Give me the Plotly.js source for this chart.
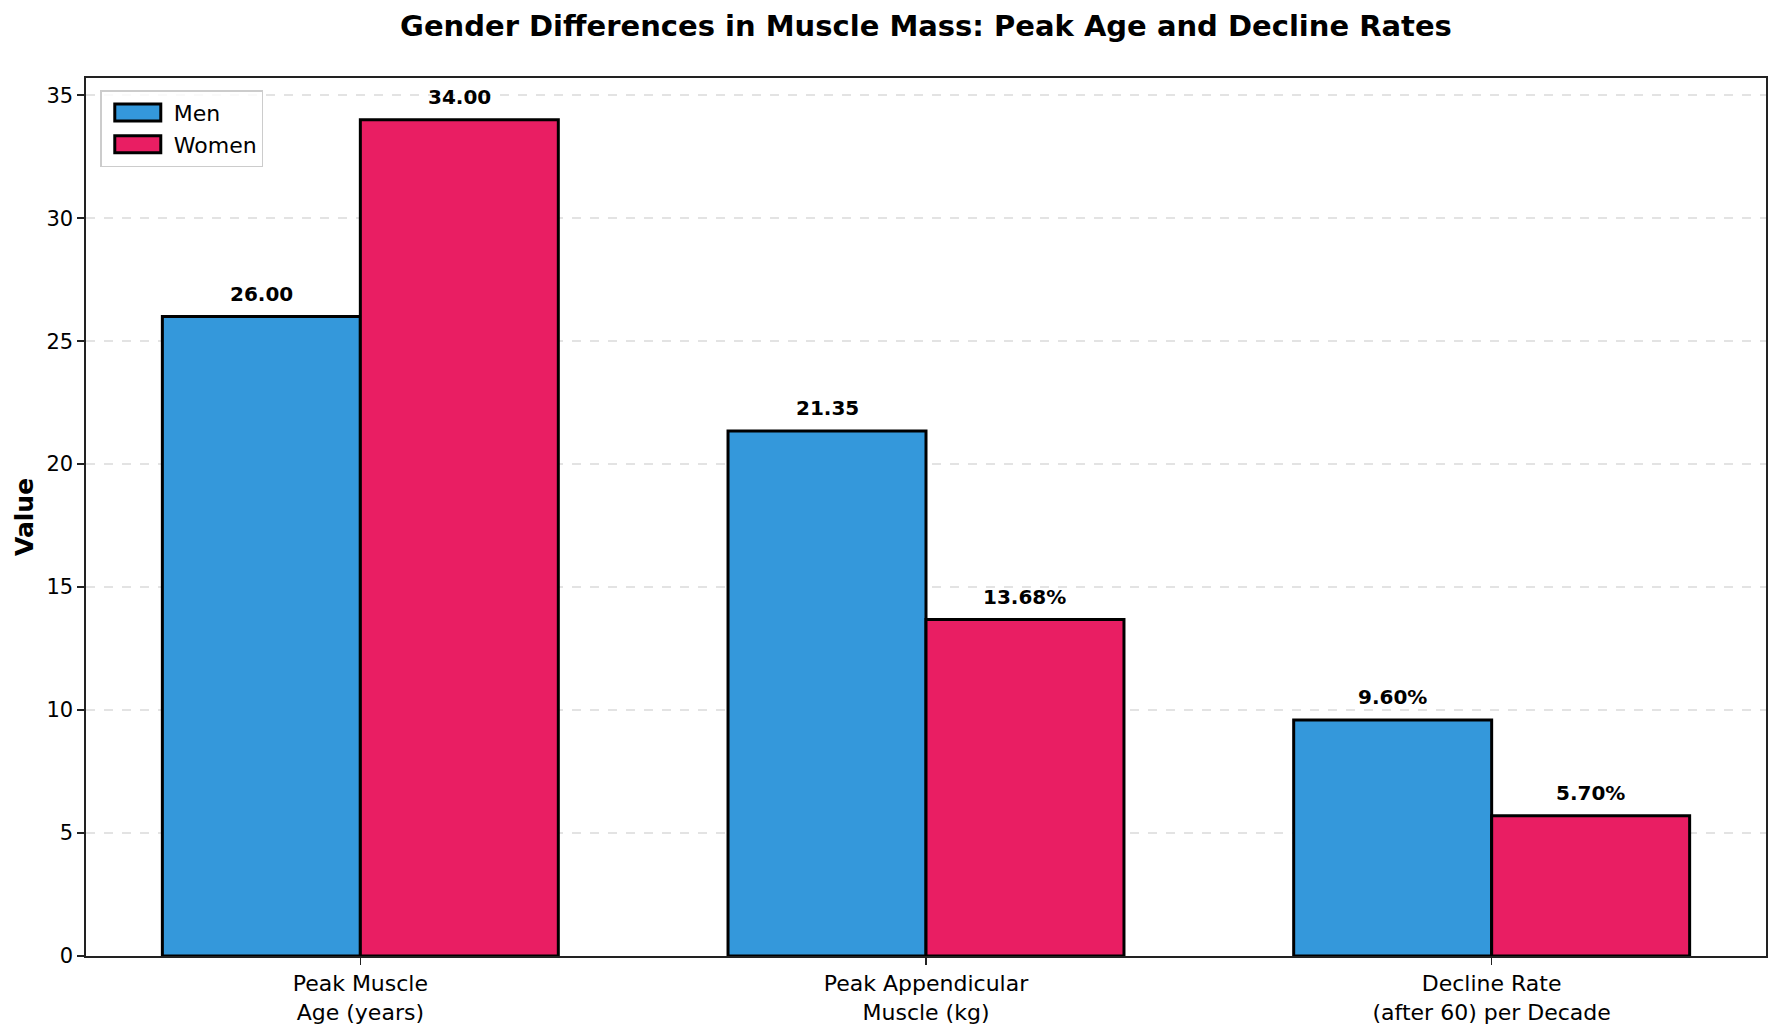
<!DOCTYPE html>
<html>
<head>
<meta charset="utf-8">
<script src="https://cdn.plot.ly/plotly-3.0.1.min.js"></script>
<style>
  html, body { margin: 0; padding: 0; background: #ffffff; }
  #chart { width: 1782px; height: 1035px; }
</style>
</head>
<body>
<div id="chart"></div>
<script>
// ---- Data ----
const categories = ["Peak Muscle<br>Age (years)", "Peak Appendicular<br>Muscle (kg)", "Decline Rate<br>(after 60) per Decade"];
const menValues = [26.00, 21.35, 9.60];
const womenValues = [34.00, 13.68, 5.70];
const menSuffix = ["", "", "%"];
const womenSuffix = ["", "%", "%"];
const yTickVals = [0, 5, 10, 15, 20, 25, 30, 35];

// ---- Chart ----
const font = "DejaVu Sans, Liberation Sans, sans-serif";
const catPos = categories.map((c, i) => i);
const barW = 0.35;

const traces = [
  {
    type: "bar", name: "Men",
    x: catPos.map(p => p - barW / 2), y: menValues, width: barW,
    marker: { color: "#3498db", line: { color: "#000000", width: 3 } },
    hoverinfo: "none"
  },
  {
    type: "bar", name: "Women",
    x: catPos.map(p => p + barW / 2), y: womenValues, width: barW,
    marker: { color: "#e91e63", line: { color: "#000000", width: 3 } },
    hoverinfo: "none"
  }
];

const annotations = [];
menValues.forEach((v, i) => annotations.push({
  xref: "x", yref: "y", x: catPos[i] - barW / 2, y: v,
  text: "<b>" + v.toFixed(2) + menSuffix[i] + "</b>",
  showarrow: false, yanchor: "bottom", yshift: 9,
  font: { family: font, size: 20, color: "#000000" }
}));
womenValues.forEach((v, i) => annotations.push({
  xref: "x", yref: "y", x: catPos[i] + barW / 2, y: v,
  text: "<b>" + v.toFixed(2) + womenSuffix[i] + "</b>",
  showarrow: false, yanchor: "bottom", yshift: 9,
  font: { family: font, size: 20, color: "#000000" }
}));

const layout = {
  width: 1782, height: 1035,
  paper_bgcolor: "#ffffff", plot_bgcolor: "#ffffff",
  margin: { l: 86, r: 16, t: 78, b: 79 },
  font: { family: font, color: "#000000" },
  title: {
    text: "<b>Gender Differences in Muscle Mass: Peak Age and Decline Rates</b>",
    font: { family: font, size: 29, color: "#000000" },
    xref: "paper", x: 0.5, xanchor: "center",
    yref: "container", y: 1 - 26 / 1035, yanchor: "middle"
  },
  barmode: "overlay",
  showlegend: true,
  legend: {
    x: 0.0085, y: 0.986, xanchor: "left", yanchor: "top",
    bgcolor: "rgba(255,255,255,0.8)", bordercolor: "#cccccc", borderwidth: 1.5,
    font: { family: font, size: 22, color: "#000000" },
    itemwidth: 62,
    tracegroupgap: 4
  },
  xaxis: {
    range: [-0.485, 2.485],
    tickmode: "array", tickvals: catPos, ticktext: categories,
    tickfont: { family: font, size: 22, color: "#000000" },
    ticks: "outside", ticklen: 7, tickwidth: 1.6, tickcolor: "#222222",
    showline: true, linecolor: "#222222", linewidth: 1.6, mirror: true,
    showgrid: false, zeroline: false
  },
  yaxis: {
    range: [0, 35.7],
    tickmode: "array", tickvals: yTickVals,
    tickfont: { family: font, size: 21, color: "#000000" },
    ticks: "outside", ticklen: 7, tickwidth: 1.6, tickcolor: "#222222",
    showline: true, linecolor: "#222222", linewidth: 1.6, mirror: true,
    showgrid: true, gridcolor: "#e3e3e3", gridwidth: 1.5, griddash: "dash",
    zeroline: false,
    title: { text: "<b>Value</b>", font: { family: font, size: 25, color: "#000000" }, standoff: 6 }
  },
  annotations: annotations
};

Plotly.newPlot("chart", traces, layout, { displayModeBar: false, staticPlot: true }).then(function (gd) {
  // widen legend patches to look like matplotlib's rectangles
  gd.querySelectorAll(".legend .legendpoints path").forEach(function (p) {
    p.setAttribute("d", "M-23,-8.5H23V8.5H-23Z");
  });
});
</script>
</body>
</html>
